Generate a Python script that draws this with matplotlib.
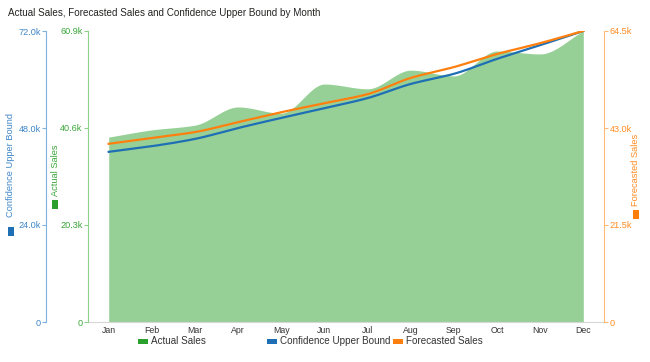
import numpy as np
import matplotlib
matplotlib.use("Agg")
import matplotlib.pyplot as plt
from matplotlib.patches import Rectangle

plt.rcParams['font.family'] = ['Liberation Sans', 'DejaVu Sans']

months = ["Jan", "Feb", "Mar", "Apr", "May", "Jun", "Jul", "Aug", "Sep", "Oct", "Nov", "Dec"]
actual_sales = [38.7, 40.2, 41.2, 45.0, 43.7, 49.8, 48.8, 52.7, 51.5, 56.7, 56.1, 60.9]
conf_upper = [42.1, 43.5, 45.3, 48.0, 50.5, 52.9, 55.4, 58.9, 61.4, 65.1, 68.5, 72.0]
forecast = [39.5, 40.8, 42.1, 44.3, 46.5, 48.5, 50.5, 54.1, 56.5, 59.4, 61.8, 64.5]

actual_ticks = [0, 20.3, 40.6, 60.9]
conf_ticks = [0, 24.0, 48.0, 72.0]
fc_ticks = [0, 21.5, 43.0, 64.5]

title = "Actual Sales, Forecasted Sales and Confidence Upper Bound by Month"


def monotone(xs, ys, n=30):
    xs = np.asarray(xs, float)
    ys = np.asarray(ys, float)
    h = np.diff(xs)
    d = np.diff(ys) / h
    m = np.zeros_like(ys)
    m[0] = d[0]
    m[-1] = d[-1]
    for i in range(1, len(ys) - 1):
        if d[i - 1] * d[i] <= 0:
            m[i] = 0
        else:
            m[i] = (h[i - 1] + h[i]) * 3 / ((2 * h[i] + h[i - 1]) / d[i - 1] + (h[i] + 2 * h[i - 1]) / d[i])
    ox, oy = [], []
    for i in range(len(xs) - 1):
        t = np.linspace(0, 1, n, endpoint=(i == len(xs) - 2))
        h00 = 2 * t**3 - 3 * t**2 + 1
        h10 = t**3 - 2 * t**2 + t
        h01 = -2 * t**3 + 3 * t**2
        h11 = t**3 - t**2
        ox.append(xs[i] + t * h[i])
        oy.append(h00 * ys[i] + h10 * h[i] * m[i] + h01 * ys[i + 1] + h11 * h[i] * m[i + 1])
    return np.concatenate(ox), np.concatenate(oy)


fig = plt.figure(figsize=(6.5, 3.62), dpi=100)
ax = fig.add_axes([88 / 650, 40 / 362, (604 - 88) / 650, 291 / 362])
x = np.arange(len(months))

green_c = '#96d096'
blue_c = '#1f6fb5'
orange_c = '#ff7f0e'

# Actual sales (host axis)
sx, sy = monotone(x, actual_sales)
ax.fill_between(sx, 0, sy, color=green_c, lw=0)
ax.set_ylim(0, 60.9)
ax.set_xlim(-0.48, 11.48)
ax.set_yticks(actual_ticks)
ax.set_yticklabels(["0" if v == 0 else f"{v:.1f}k" for v in actual_ticks])
ax.set_xticks(x)
ax.set_xticklabels(months)
ax.tick_params(axis='x', length=0, labelsize=6.3, colors='#333333', pad=3)
ax.tick_params(axis='y', length=3, width=0.8, labelsize=6.6, colors='#8fd18a', labelcolor='#3aa63a', pad=1)
for s in ['top', 'right']:
    ax.spines[s].set_visible(False)
ax.spines['left'].set_color('#8fd18a')
ax.spines['left'].set_zorder(5)
ax.spines['bottom'].set_color('#d6d6d6')

# Confidence upper bound
axb = ax.twinx()
cx, cy = monotone(x, conf_upper)
axb.plot(cx, cy, color=blue_c, lw=1.6)
axb.set_ylim(0, 72.0)
axb.yaxis.set_ticks_position('left')
axb.spines['left'].set_position(('outward', 30))
axb.spines['left'].set_color('#7fb2df')
for s in ['top', 'right', 'bottom']:
    axb.spines[s].set_visible(False)
axb.set_yticks(conf_ticks)
axb.set_yticklabels(["0" if v == 0 else f"{v:.1f}k" for v in conf_ticks])
axb.tick_params(axis='y', length=3, width=0.8, labelsize=6.6, colors='#7fb2df', labelcolor='#3f86c8', pad=1)

# Forecasted sales
axo = ax.twinx()
fx, fy = monotone(x, forecast)
axo.plot(fx, fy, color=orange_c, lw=1.6)
axo.set_ylim(0, 64.5)
for s in ['top', 'left', 'bottom']:
    axo.spines[s].set_visible(False)
axo.spines['right'].set_color('#ffb878')
axo.set_yticks(fc_ticks)
axo.set_yticklabels(["0" if v == 0 else f"{v:.1f}k" for v in fc_ticks])
axo.tick_params(axis='y', length=3, width=0.8, labelsize=6.6, colors='#ffb878', labelcolor='#ff8c22', pad=1)

# Title
fig.text(8 / 650, 1 - 13 / 362, title, fontsize=7.1, color='#252423', va='center', ha='left')

# Axis titles with colored squares
def axis_title(xp, yc, ysq, text, tcol, scol):
    fig.text(xp / 650, 1 - yc / 362, text, rotation=90, fontsize=6.7, color=tcol, ha='center', va='center')
    fig.add_artist(Rectangle(((xp - 3) / 650, 1 - (ysq + 4) / 362), 6 / 650, 9 / 362,
                             transform=fig.transFigure, color=scol, lw=0))

axis_title(11, 165, 232, "Confidence Upper Bound", '#3f86c8', blue_c)
axis_title(55, 170, 205, "Actual Sales", '#3aa63a', '#2ca02c')
axis_title(636, 170, 215, "Forecasted Sales", '#ff8c22', orange_c)

# Legend
def legend_item(xp, text, col):
    fig.add_artist(Rectangle((xp / 650, 1 - 344 / 362), 10 / 650, 5 / 362,
                             transform=fig.transFigure, color=col, lw=0))
    fig.text((xp + 13) / 650, 1 - 341 / 362, text, fontsize=7.1, color='#333333', ha='left', va='center')

legend_item(138, "Actual Sales", '#2ca02c')
legend_item(267, "Confidence Upper Bound", blue_c)
legend_item(393, "Forecasted Sales", orange_c)

fig.savefig("out.png", dpi=100)
